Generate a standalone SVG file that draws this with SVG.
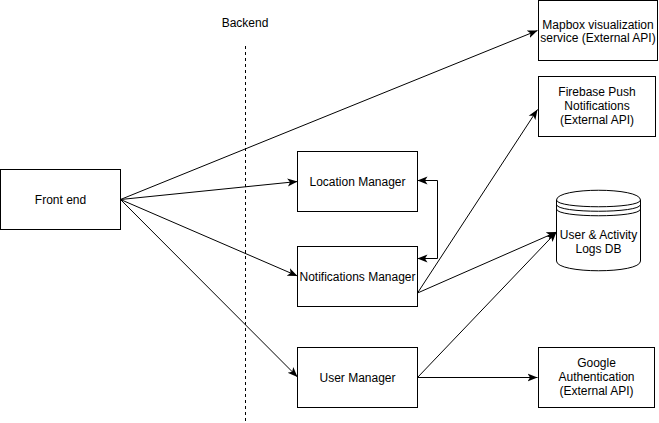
<svg xmlns="http://www.w3.org/2000/svg" width="659" height="423" viewBox="0 0 659 423">
<defs>
<style>
.box{fill:#fff;stroke:#000;stroke-width:1}
.t{font-family:"Liberation Sans",Arial,Helvetica,sans-serif;font-size:12px;fill:#000;text-anchor:middle}
.c{fill:none;stroke:#000;stroke-width:1}
</style>
<marker id="ah" viewBox="0 0 10 10" refX="10" refY="5" markerWidth="10" markerHeight="10" markerUnits="userSpaceOnUse" orient="auto-start-reverse">
<path d="M10,5 L0,1 L2.5,5 L0,9 z" fill="#000"/>
</marker>
</defs>
<rect width="659" height="423" fill="#fff"/>
<g id="backend-divider">
<text class="t" x="245" y="27">Backend</text>
<line x1="245.5" y1="46" x2="245.5" y2="423" stroke="#000" stroke-dasharray="3 3"/>
</g>
<g id="connectors">
<path class="c" d="M120.5,199.5 L537.5,30.5" marker-end="url(#ah)"/>
<path class="c" d="M120.5,199.5 L297.5,181.5" marker-end="url(#ah)"/>
<path class="c" d="M120.5,199.5 L297.5,276" marker-end="url(#ah)"/>
<path class="c" d="M120.5,199.5 L297.5,377" marker-end="url(#ah)"/>
<path class="c" d="M417.5,180.5 H437.5 V258.5 H417.5" marker-start="url(#ah)" marker-end="url(#ah)"/>
<path class="c" d="M417.5,293 L537.5,109.5" marker-end="url(#ah)"/>
<path class="c" d="M417.5,293 L556.5,232" marker-end="url(#ah)"/>
<path class="c" d="M417.5,377.5 L556.5,232" marker-end="url(#ah)"/>
<path class="c" d="M417.5,377.5 L537.5,377.5" marker-end="url(#ah)"/>
</g>
<g id="front-end">
<rect class="box" x="0.5" y="169.5" width="120" height="60"/>
<text class="t" x="60.5" y="203.5">Front end</text>
</g>
<g id="location-manager">
<rect class="box" x="297.5" y="151.5" width="120" height="60"/>
<text class="t" x="357.5" y="185.5">Location Manager</text>
</g>
<g id="notifications-manager">
<rect class="box" x="297.5" y="246.5" width="120" height="60"/>
<text class="t" x="357.5" y="280.5">Notifications Manager</text>
</g>
<g id="user-manager">
<rect class="box" x="297.5" y="347.5" width="120" height="60"/>
<text class="t" x="357.5" y="381.5">User Manager</text>
</g>
<g id="mapbox">
<rect class="box" x="538.5" y="0.5" width="119" height="60"/>
<text class="t" x="598" y="29">Mapbox visualization</text>
<text class="t" x="598" y="42">service (External API)</text>
</g>
<g id="firebase">
<rect class="box" x="538.5" y="76.5" width="117" height="60"/>
<text class="t" x="597" y="96">Firebase Push</text>
<text class="t" x="597" y="110">Notifications</text>
<text class="t" x="597" y="124">(External API)</text>
</g>
<g id="logs-db">
<path class="box" d="M556.5,200 C556.5,187 640.5,187 640.5,200 L640.5,261 C640.5,274 556.5,274 556.5,261 Z"/>
<path class="c" d="M556.5,200 C556.5,209 640.5,209 640.5,200"/>
<path class="c" d="M556.5,204.5 C556.5,213.5 640.5,213.5 640.5,204.5"/>
<path class="c" d="M556.5,209 C556.5,218 640.5,218 640.5,209"/>
<text class="t" x="598.5" y="239">User &amp; Activity</text>
<text class="t" x="598.5" y="253">Logs DB</text>
</g>
<g id="google-auth">
<rect class="box" x="538.5" y="347.5" width="116" height="60"/>
<text class="t" x="596.5" y="367">Google</text>
<text class="t" x="596.5" y="381">Authentication</text>
<text class="t" x="596.5" y="395">(External API)</text>
</g>
</svg>
